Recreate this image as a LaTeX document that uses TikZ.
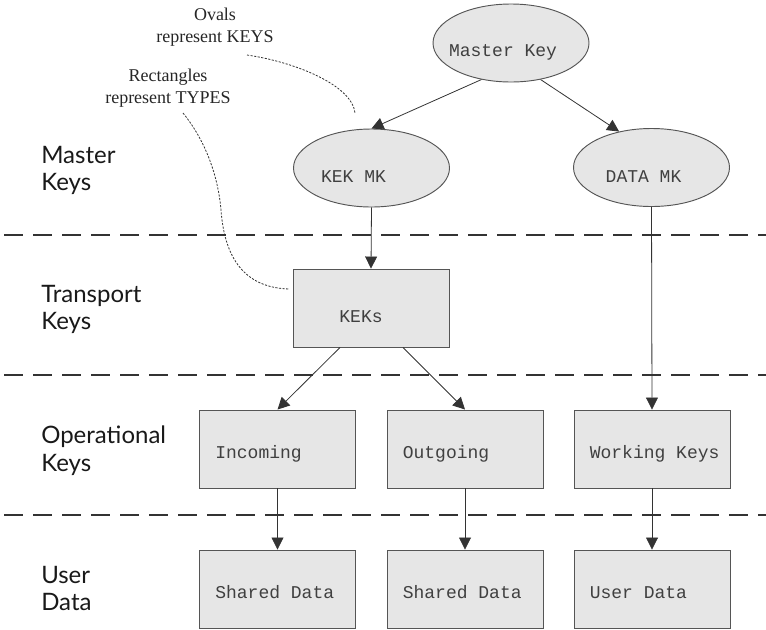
\documentclass[tikz,border=0pt]{standalone}
\usepackage{fontspec}
\usetikzlibrary{arrows.meta,shapes.geometric}
\newfontfamily\monofont{Liberation Mono}
\newfontfamily\labfont{Lato}
\newfontfamily\annfont{Liberation Serif}
\definecolor{boxfill}{HTML}{E6E6E6}
\definecolor{boxline}{HTML}{555555}
\definecolor{inkc}{HTML}{333333}
\definecolor{sepc}{HTML}{333333}
\tikzset{
  keyoval/.style={ellipse, draw=boxline, fill=boxfill, line width=0.7pt,
    minimum width=117pt, minimum height=58.5pt, inner sep=0pt},
  typebox/.style={rectangle, draw=boxline, fill=boxfill, line width=0.7pt,
    minimum width=117pt, minimum height=58.5pt, inner sep=0pt},
  mtext/.style={font=\monofont\fontsize{13.5}{16}\selectfont, text=black!75, inner sep=0pt},
  boxtext/.style={mtext, anchor=base west, xshift=12pt, yshift=-6.75pt},
  ovaltext/.style={mtext, anchor=base, yshift=-6.75pt},
  conn/.style={draw=inkc, line width=0.6pt, -{Triangle[length=9pt,width=9pt]}},
  sepline/.style={draw=sepc, line width=1.5pt, dash pattern=on 14.25pt off 7.5pt},
  rowlabel/.style={font=\labfont\fontsize{18}{20.6}\selectfont, text=black!90, align=left, anchor=west, inner sep=0pt},
  annot/.style={font=\annfont\fontsize{13.5}{16.5}\selectfont, text=black!85, align=center, inner sep=0pt},
  annline/.style={draw=inkc, line width=0.6pt, dash pattern=on 1.6pt off 1.1pt}
}
\begin{document}
\begin{tikzpicture}[x=0.75pt,y=-0.75pt]
\useasboundingbox (0,0) rectangle (766,629);

% separators
\draw[sepline] (4,235) -- (766,235);
\draw[sepline] (4,375) -- (766,375);
\draw[sepline] (4,515) -- (766,515);

% row labels
\node[rowlabel] (lmaster) at (41,170.5) {Master\\Keys};
\node[rowlabel] (ltrans) at (41,309.5) {Transport\\Keys};
\node[rowlabel] (loper) at (41,450.5) {Operational\\Keys};
\node[rowlabel] (luser) at (41,588.5) {User\\Data};

% ovals
\node[keyoval, label={[ovaltext, xshift=-6pt]center:Master Key}] (mk) at (511,43) {};
\node[keyoval, label={[ovaltext, xshift=-13.5pt]center:KEK MK}] (kek) at (371.5,168) {};
\node[keyoval, label={[ovaltext, xshift=-6pt]center:DATA MK}] (dmk) at (651.5,167.5) {};

% rectangles
\node[typebox, label={[ovaltext, xshift=-7.5pt]center:KEKs}] (keks) at (371,308) {};
\node[typebox, label={[boxtext]west:Incoming}] (inc) at (277.5,449) {};
\node[typebox, label={[boxtext]west:Outgoing}] (out) at (465,449) {};
\node[typebox, label={[boxtext]west:Working Keys}] (work) at (652,449) {};
\node[typebox, label={[boxtext]west:Shared Data}] (sh1) at (277.5,589) {};
\node[typebox, label={[boxtext]west:Shared Data}] (sh2) at (465,589) {};
\node[typebox, label={[boxtext]west:User Data}] (ud) at (652,589) {};

% connectors
\draw[conn] (mk.231) -- (kek.north);
\draw[conn] (mk.309) -- (dmk.132);
\draw[conn] (kek.south) -- (keks.north);
\draw[conn] (dmk.south) -- (work.north);
\draw[conn] ([xshift=-23.25pt]keks.south) -- (inc.north);
\draw[conn] ([xshift=24pt]keks.south) -- (out.north);
\draw[conn] (inc.south) -- (sh1.north);
\draw[conn] (out.south) -- (sh2.north);
\draw[conn] (work.south) -- (ud.north);

% annotations
\node[annot] (aov) at (215,27) {Ovals\\represent KEYS};
\node[annot] (arect) at (168,88.5) {Rectangles\\represent TYPES};
\coordinate (ovA) at (247,55);
\coordinate (ovB) at (355,113);
\coordinate (reA) at (183,113);
\coordinate (reM) at (221,210);
\draw[annline] (ovA) .. controls (295,62) and (352,85) .. (ovB);
\draw[annline] (reA) .. controls (205,140) and (218,175) .. (reM)
  .. controls (225,265) and (250,288) .. ([shift={(-3,-19)}]keks.west);
\end{tikzpicture}
\end{document}
